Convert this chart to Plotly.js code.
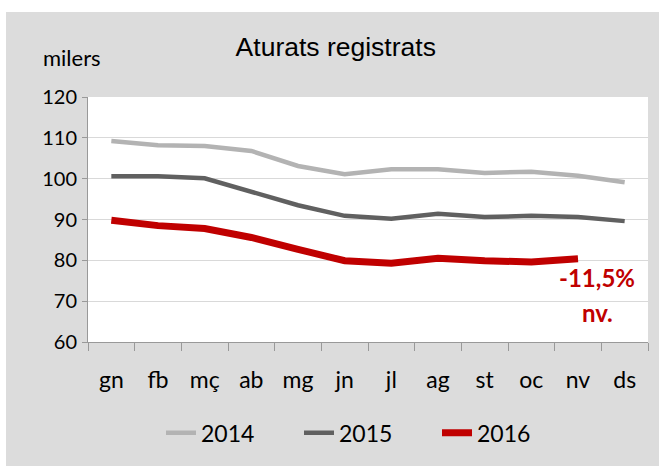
<!DOCTYPE html>
<html><head><meta charset="utf-8">
<script src="https://cdn.plot.ly/plotly-3.0.1.min.js"></script>
<style>
html,body{margin:0;padding:0;background:#fff;}
#chart{position:absolute;left:6px;top:12px;width:653px;height:454px;}
</style></head>
<body><div id="chart"></div>
<script>
const months = ['gn','fb','mç','ab','mg','jn','jl','ag','st','oc','nv','ds'];
const y2014 = [109.2,108.2,108.0,106.8,103.1,101.1,102.3,102.3,101.4,101.7,100.7,99.1];
const y2015 = [100.6,100.6,100.1,96.7,93.5,90.9,90.2,91.4,90.6,90.9,90.6,89.6];
const y2016 = [89.8,88.5,87.8,85.6,82.7,79.9,79.3,80.5,79.9,79.6,80.4];
const yTicks = [60,70,80,90,100,110,120];

const font = 'Lato, "Open Sans", sans-serif';
const traces = [
  {x: months, y: y2014, name: '2014', mode: 'lines', line: {color: '#b3b3b3', width: 4.5}},
  {x: months, y: y2015, name: '2015', mode: 'lines', line: {color: '#606060', width: 4.5}},
  {x: months.slice(0, y2016.length), y: y2016, name: '2016', mode: 'lines', line: {color: '#c00000', width: 7}}
];

const layout = {
  width: 653, height: 454,
  paper_bgcolor: '#dcdcdc', plot_bgcolor: '#ffffff',
  margin: {l: 82, r: 11, t: 85, b: 121},
  title: {text: 'Aturats registrats', x: 0.505, xanchor: 'center', y: 0.923, yanchor: 'middle',
          font: {family: 'Liberation Sans, Arial, sans-serif', size: 26.5, color: '#000'}},
  font: {family: font, size: 21, color: '#000'},
  showlegend: true,
  legend: {orientation: 'h', x: 0.5, xanchor: 'center', y: -0.371, yanchor: 'middle',
           font: {family: font, size: 23, color: '#000'}, bgcolor: 'rgba(0,0,0,0)',
           entrywidth: 93, entrywidthmode: 'pixels'},
  xaxis: {type: 'category', categoryarray: months, tickmode: 'array', tickvals: months,
          tickson: 'boundaries', ticks: 'outside', ticklen: 8, tickcolor: '#999', tickwidth: 1,
          showline: true, linecolor: '#999', linewidth: 1, showgrid: false,
          range: [-0.5, 11.5], tickfont: {family: font, size: 23}, ticklabelstandoff: 17, fixedrange: true},
  yaxis: {range: [60, 120], tickvals: yTicks, ticks: 'outside', ticklen: 5, tickcolor: '#999',
          showline: true, linecolor: '#999', linewidth: 1, showgrid: true, gridcolor: '#d9d9d9',
          gridwidth: 1, zeroline: false, tickfont: {family: font, size: 20}, ticklabelstandoff: 1, fixedrange: true},
  annotations: [
    {text: 'milers', xref: 'paper', yref: 'paper', x: -0.029, y: 1.161, xanchor: 'center', yanchor: 'middle',
     showarrow: false, font: {family: font, size: 22, color: '#000'}},
    {text: '<b>-11,5%</b>', xref: 'x', yref: 'y', x: 'nv', y: 75.7, xanchor: 'center', yanchor: 'middle',
     xshift: 19, showarrow: false, font: {family: font, size: 24, color: '#c00000'}},
    {text: '<b>nv.</b>', xref: 'x', yref: 'y', x: 'nv', y: 67.2, xanchor: 'center', yanchor: 'middle',
     xshift: 19, showarrow: false, font: {family: font, size: 24, color: '#c00000'}}
  ]
};
Plotly.newPlot('chart', traces, layout, {displayModeBar: false, staticPlot: true});
</script></body></html>
